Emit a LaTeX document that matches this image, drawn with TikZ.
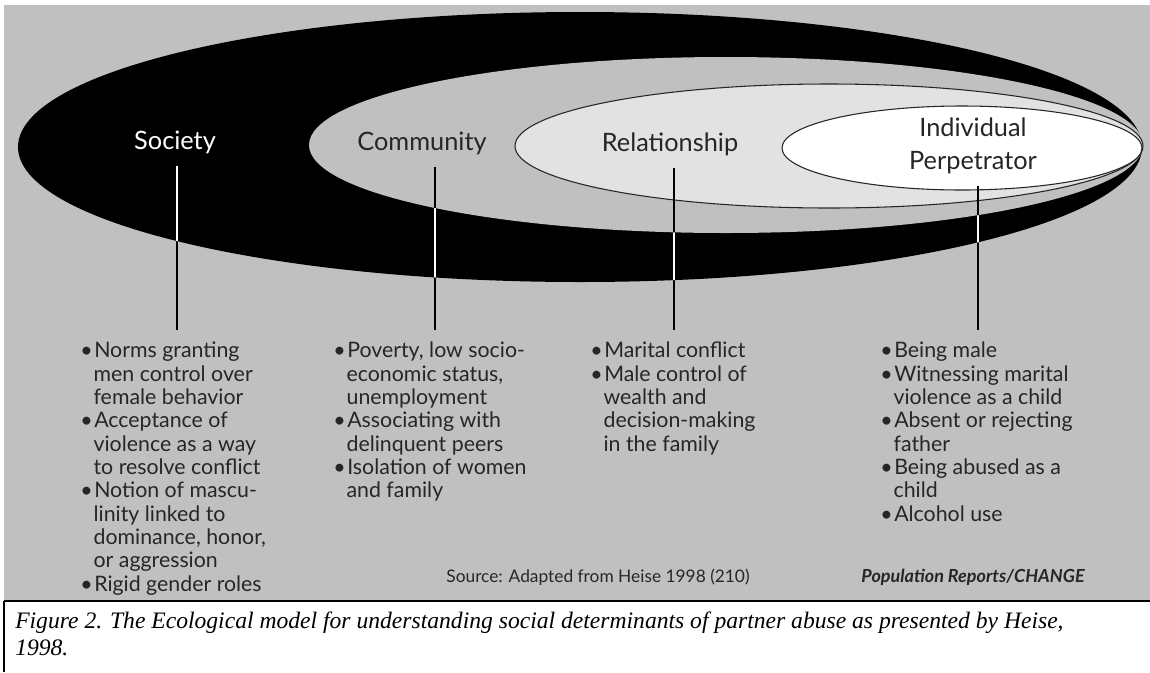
\documentclass[tikz,border=0pt]{standalone}
\usepackage{fontspec}
\setmainfont{Lato}
\newfontfamily\capfont{Liberation Serif}
\usetikzlibrary{positioning}
\usetikzlibrary{backgrounds}

\definecolor{bggray}{RGB}{192,192,192}
\definecolor{relgray}{RGB}{226,226,226}
\definecolor{inkgray}{RGB}{38,38,38}

\tikzset{
  level/.style={inner sep=0pt,anchor=base,text=inkgray,font=\fontsize{19}{23}\selectfont},
  factors/.style={inner sep=0pt,anchor=north west,align=left,text=inkgray,
    font=\fontsize{16}{17.5}\selectfont},
  lead/.style={line width=1pt,line cap=butt,shorten <=9pt,shorten >=9pt},
}
\newcommand{\bul}{\makebox[10.5pt][l]{\textbullet}}
\newcommand{\hang}{\hspace*{10pt}}
% the four stems, drawn once per colour
\newcommand{\leads}[1]{%
  \draw[lead,#1] ([xshift=1.5pt]society.south) -- ([xshift=1.5pt]society.south |- socList.north);
  \draw[lead,#1] ([xshift=9.75pt]community.south) -- ([xshift=9.75pt]community.south |- comList.north);
  \draw[lead,#1] ([xshift=3pt]relation.south) -- ([xshift=3pt]relation.south |- relList.north);
  \draw[lead,#1] ([xshift=3.75pt]individual.south) -- ([xshift=3.75pt]individual.south |- indList.north);}

\begin{document}
\begin{tikzpicture}[line cap=round,line join=round,x=0.75pt,y=-0.75pt]
\useasboundingbox (0,0) rectangle (1150,672);

\node[level,text=white] (society) at (175,149) {Society};
\node[level] (community) at (422,150) {Community};
\node[level] (relation) at (670,151) {Relationship};
\node[level,anchor=center,align=center,font=\fontsize{19}{25}\selectfont] (individual) at (973,146) {Individual\\Perpetrator};

\node[factors] (socList) at (80,342) {\bul Norms granting\\
\hang men control over\\
\hang female behavior\\
\bul Acceptance of\\
\hang violence as a way\\
\hang to resolve conflict\\
\bul Notion of mascu-\\
\hang linity linked to\\
\hang dominance, honor,\\
\hang or aggression\\
\bul Rigid gender roles};
\node[factors] (comList) at (333,342) {\bul Poverty, low socio-\\
\hang economic status,\\
\hang unemployment\\
\bul Associating with\\
\hang delinquent peers\\
\bul Isolation of women\\
\hang and family};
\node[factors] (relList) at (590,342) {\bul Marital conflict\\
\bul Male control of\\
\hang wealth and\\
\hang decision-making\\
\hang in the family};
\node[factors] (indList) at (880,342) {\bul Being male\\
\bul Witnessing marital\\
\hang violence as a child\\
\bul Absent or rejecting\\
\hang father\\
\bul Being abused as a\\
\hang child\\
\bul Alcohol use};

\node[text=inkgray,font=\fontsize{13}{15}\selectfont] (source) at (598,577) {Source: Adapted from Heise 1998 (210)};
\node[text=inkgray,font=\fontsize{13.5}{15}\selectfont\bfseries\itshape] (credit) at (973,577) {Population Reports/CHANGE};

\node[anchor=north west,inner sep=0pt,align=left,font=\capfont\itshape\fontsize{17.7}{20}\selectfont] (caption) at (15,612)
  {Figure 2. The Ecological model for understanding social determinants of partner abuse as presented by Heise,\\1998.};

\begin{pgfonlayer}{background}
\fill[bggray] (4,5) rectangle (1150,600);
\leads{black}
\fill[black] (580,147) ellipse (562 and 135);
\begin{scope}
  \clip (580,147) ellipse (562 and 135);
  \leads{white}
\end{scope}
\fill[bggray] (726,145) ellipse (417 and 88);
\filldraw[fill=relgray,draw=inkgray,line width=0.8pt] (829,146) ellipse (314 and 62);
\filldraw[fill=white,draw=inkgray,line width=0.8pt] (962,148) ellipse (180 and 42);
\begin{scope}
  \clip (726,145) ellipse (417 and 88);
  \leads{black}
\end{scope}
\draw[line width=1.5pt,line cap=butt] (4,601) -- (1150,601);
\draw[line width=0.8pt,line cap=butt] (4,601) -- (4,672);
\end{pgfonlayer}
\end{tikzpicture}
\end{document}
